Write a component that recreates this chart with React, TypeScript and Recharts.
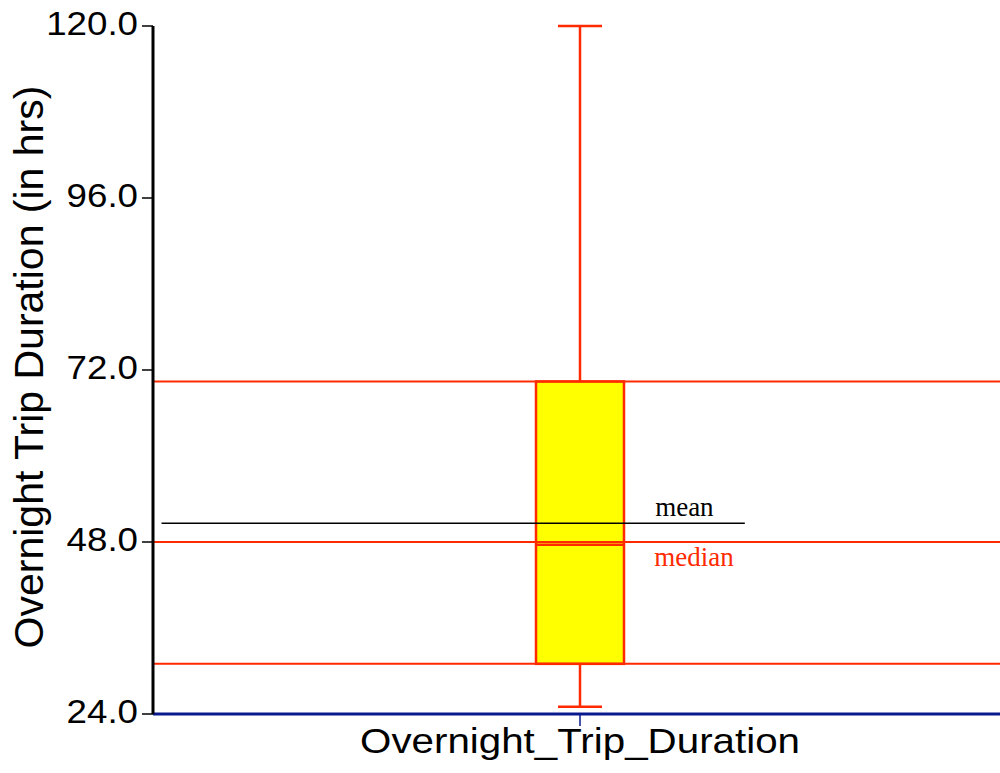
import { Bar, ComposedChart, ReferenceLine, XAxis, YAxis } from 'recharts';

const categories = ['Overnight_Trip_Duration'];
const lowWhisker = [25.0];
const q1 = [31.0];
const medians = [47.6];
const q3 = [70.4];
const highWhisker = [120.0];
const means = [50.6];
const medianGuide = 48.0;
const yTicks = [24, 48, 72, 96, 120];

const RED = '#ff2a00';
const BLUE = '#0a1a8c';
const SANS = '"Liberation Sans", Arial, sans-serif';
const SERIF = '"Liberation Serif", "Times New Roman", serif';

const rows = categories.map((name, i) => ({
	name,
	low: lowWhisker[i],
	q1: q1[i],
	median: medians[i],
	q3: q3[i],
	high: highWhisker[i],
	mean: means[i],
}));

// box + whiskers, drawn from the bar's [q1, q3] rectangle
const BoxShape = (props: any) => {
	const { x, y, width, height, payload } = props;
	const unit = height / (payload.q3 - payload.q1);
	const yOf = (v: number) => y + (payload.q3 - v) * unit;
	const cx = x + width / 2;
	const cap = width / 4;
	return (
		<g stroke={RED} strokeWidth={2.5} fill="none">
			<line x1={cx} x2={cx} y1={yOf(payload.high)} y2={y} />
			<line x1={cx - cap} x2={cx + cap} y1={yOf(payload.high)} y2={yOf(payload.high)} />
			<line x1={cx} x2={cx} y1={y + height} y2={yOf(payload.low)} />
			<line x1={cx - cap} x2={cx + cap} y1={yOf(payload.low)} y2={yOf(payload.low)} />
			<rect x={x} y={y} width={width} height={height} fill="#ffff00" />
			<line x1={x} x2={x + width} y1={yOf(payload.median)} y2={yOf(payload.median)} />
		</g>
	);
};

// mean line only spans part of the plot width
const MeanLine = (p: any) => {
	const w = p.x2 - p.x1;
	return <line x1={p.x1 + w * 0.01} x2={p.x1 + w * 0.693} y1={p.y1} y2={p.y2} stroke="#000" strokeWidth={1.5} />;
};

const lineText = (text: string, color: string, at: number, dy: number) => (p: any) => (
	<text x={p.viewBox.x + p.viewBox.width * at} y={p.viewBox.y + dy} fill={color} fontFamily={SERIF} fontSize={27}>
		{text}
	</text>
);

const YTick = (p: any) => (
	<text
		transform={`translate(${p.x},${p.y - 3}) scale(1.08,1)`}
		textAnchor="end"
		dy="0.36em"
		fill="#000"
		fontFamily={SANS}
		fontSize={34}
	>
		{p.payload.value.toFixed(1)}
	</text>
);

const XTick = (p: any) => (
	<text
		transform={`translate(${p.x},${753}) scale(1.12,1)`}
		textAnchor="middle"
		fill="#000"
		fontFamily={SANS}
		fontSize={36}
	>
		{p.payload.value}
	</text>
);

export default function App() {
	return (
		<div style={{ position: 'fixed', left: 0, top: 0, width: 1000, height: 773, overflow: 'hidden', background: '#fff' }}>
			<ComposedChart width={1007} height={773} data={rows} margin={{ top: 26, right: 0, bottom: 0, left: 0 }}>
				<XAxis
					dataKey="name"
					height={59}
					axisLine={{ stroke: BLUE, strokeWidth: 3 }}
					tickLine={{ stroke: BLUE, strokeWidth: 1.5 }}
					tickSize={12}
					tick={XTick}
				/>
				<YAxis
					type="number"
					domain={[24, 120]}
					ticks={yTicks}
					width={153}
					axisLine={{ stroke: '#000', strokeWidth: 3 }}
					tickLine={{ stroke: '#000', strokeWidth: 1.5 }}
					tickSize={11}
					tickMargin={4}
					tick={YTick}
					label={{
						content: (p: any) => (
							<text
								transform={`translate(43,${p.viewBox.y + p.viewBox.height / 2 - 3}) rotate(-90)`}
								textAnchor="middle"
								fill="#000"
								fontFamily={SANS}
								fontSize={41}
							>
								Overnight Trip Duration (in hrs)
							</text>
						),
					}}
				/>
				<ReferenceLine y={q3[0]} stroke={RED} strokeWidth={2} />
				<ReferenceLine
					y={medianGuide}
					stroke={RED}
					strokeWidth={2}
					label={{ content: lineText('median', RED, 0.587, 24) }}
				/>
				<ReferenceLine y={q1[0]} stroke={RED} strokeWidth={2} />
				<Bar dataKey={(d: any) => [d.q1, d.q3]} barSize={88} shape={BoxShape} isAnimationActive={false} />
				<ReferenceLine
					y={means[0]}
					shape={MeanLine}
					label={{ content: lineText('mean', '#000', 0.588, -7) }}
				/>
			</ComposedChart>
		</div>
	);
}
